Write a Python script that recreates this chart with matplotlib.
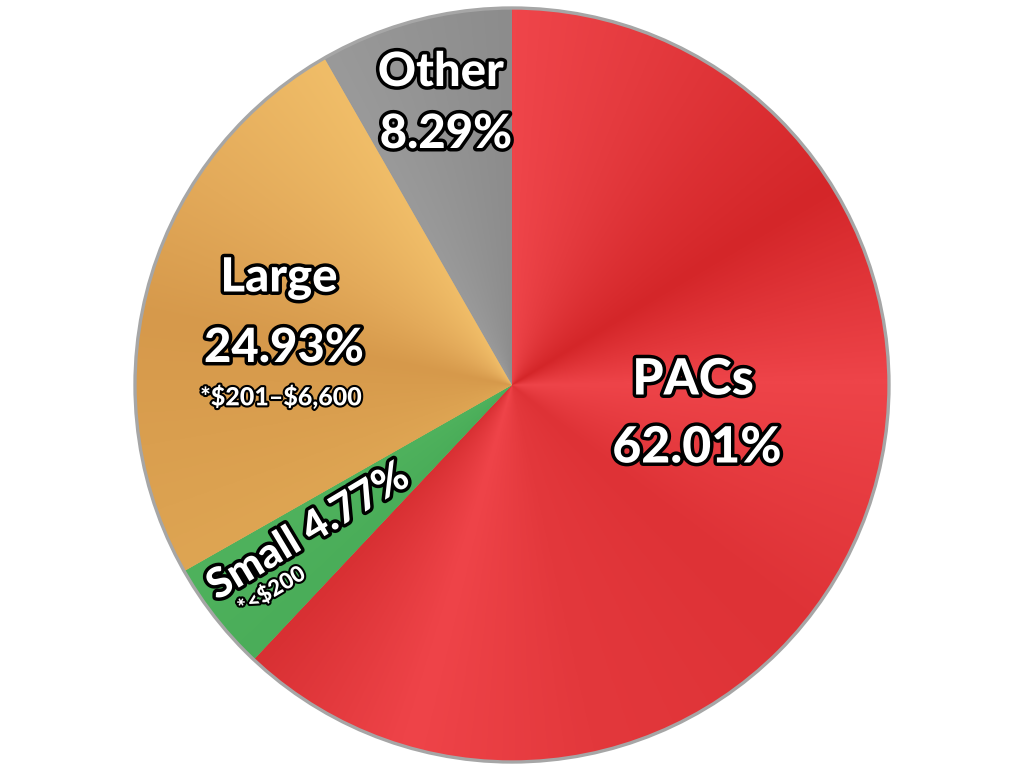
import numpy as np
import matplotlib
matplotlib.use("Agg")
import matplotlib.pyplot as plt
import matplotlib.patheffects as pe
from matplotlib.colors import LinearSegmentedColormap

labels = ["PACs", "Small", "Large", "Other"]
shares = [62.01, 4.77, 24.93, 8.29]
notes = ["", "*<$200", "*$201–$6,600", ""]
base_colors = ["#e2363a", "#4caf5b", "#e0a554", "#929292"]

# colour stops along each slice (fraction of the slice, clockwise from its start)
stops = {
    "PACs": [(0.0, "#ef454a"), (0.1, "#e43a3e"), (0.26, "#d42629"), (0.4, "#ee4449"),
             (0.58, "#de3236"), (0.75, "#e3383c"), (0.88, "#ef4449"), (1.0, "#d83033")],
    "Small": [(0.0, "#4aad59"), (1.0, "#4fb25d")],
    "Large": [(0.0, "#dea553"), (0.45, "#d6994b"), (0.7, "#e3aa5a"), (1.0, "#f0bd68")],
    "Other": [(0.0, "#9a9a9a"), (1.0, "#8c8c8c")],
}

fig = plt.figure(figsize=(10.24, 7.68), dpi=100)
ax = fig.add_axes([0, 0, 1, 1])

cx, cy, r = 512, 383, 377
wedges, _ = ax.pie(shares, colors=base_colors, startangle=90, counterclock=False,
                   radius=r, center=(cx, cy), wedgeprops=dict(linewidth=0))

# conic shading inside each slice
n = 900
xs = np.linspace(cx - r, cx + r, n)
ys = np.linspace(cy - r, cy + r, n)
X, Y = np.meshgrid(xs, ys)
t = np.degrees(np.arctan2(X - cx, Y - cy)) % 360  # clockwise from top

start = 0.0
for w, lab, s in zip(wedges, labels, shares):
    span = s / 100 * 360
    frac = np.clip((t - start) / span, 0, 1)
    cmap = LinearSegmentedColormap.from_list(lab, stops[lab])
    im = ax.imshow(cmap(frac), extent=[cx - r, cx + r, cy - r, cy + r], origin="lower",
                   interpolation="bilinear", zorder=2)
    im.set_clip_path(w)
    start += span

ring = plt.Circle((cx, cy), r, fill=False, edgecolor="#a6a6a6", linewidth=2.4, zorder=3)
ax.add_patch(ring)

font = dict(family=["Lato", "DejaVu Sans"], fontweight="black", color="white", zorder=5)
outline = [pe.withStroke(linewidth=5, foreground="black")]
thin = [pe.withStroke(linewidth=3, foreground="black")]

def label(x, y, s, size, rot=0, fx=outline):
    ax.text(x, 768 - y, s, fontsize=size, ha="center", va="center", rotation=rot,
            path_effects=fx, parse_math=False, **font)

label(693, 380, labels[0], 36)
label(697, 448, f"{shares[0]:.2f}%", 36)
label(441, 72, labels[3], 34)
label(446, 134, f"{shares[3]:.2f}%", 34)
label(279, 278, labels[2], 34)
label(284, 348, f"{shares[2]:.2f}%", 34)
label(281, 397, notes[2], 18, fx=thin)
label(308, 532, f"{labels[1]} {shares[1]:.2f}%", 30, rot=31)
label(272, 591, notes[1], 16, rot=31, fx=thin)

ax.set_xlim(0, 1024)
ax.set_ylim(0, 768)
ax.set_aspect("equal")
ax.axis("off")
fig.savefig("out.png", dpi=100)
